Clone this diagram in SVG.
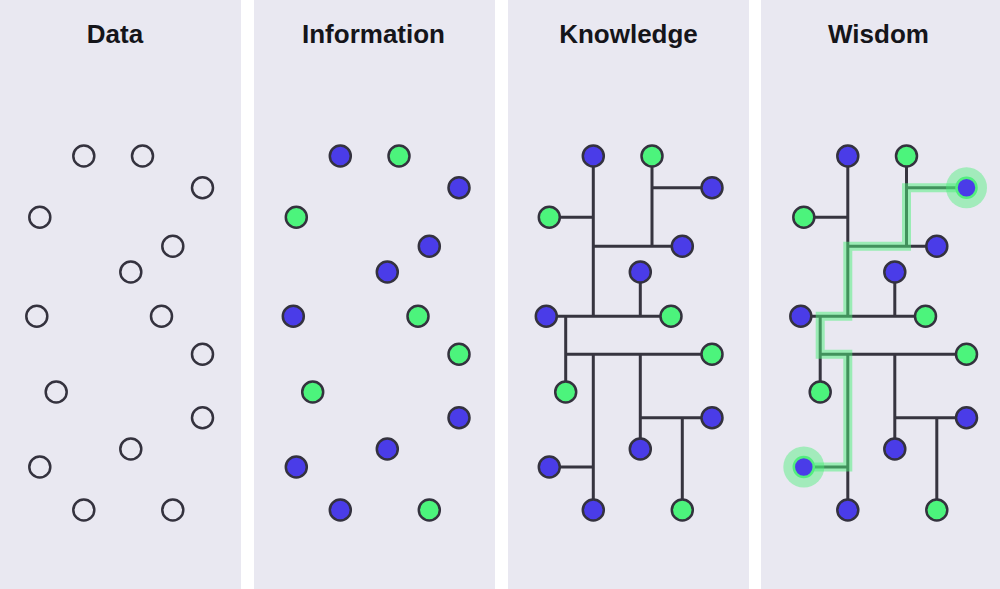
<svg xmlns="http://www.w3.org/2000/svg" width="1000" height="589" viewBox="0 0 1000 589">
<style>
.panel{fill:#e9e8f1}
.title{font-family:"Liberation Sans",Arial,sans-serif;font-weight:bold;font-size:26px;fill:#15151a;text-anchor:middle}
.n{stroke:#34323e;stroke-width:2.5}
.e{fill:none}
.b{fill:#4a3ce8}
.g{fill:#4cf47c}
.ln{fill:none;stroke:#36343f;stroke-width:3}
.hl{fill:none;stroke:#4cef7a;stroke-opacity:0.5;stroke-width:9;stroke-linejoin:miter}
.halo{fill:#4cef7a;fill-opacity:0.45}
.hn{fill:#4a3ce8;stroke:#52ee7e;stroke-width:2.5}
</style>
<defs>
<path id="tree" d="M83.8 156V316.3M39.8 217.3H83.8M142.5 156V246.3M142.5 187.7H202.5M83.8 246.3H172.8M130.8 272V316.3M36.8 316.3H161.5M56.2 316.3V392M56.2 354.3H202.5M83.8 354.3V510M39.8 467H83.8M130.8 354.3V449M130.8 417.7H202.5M172.8 417.7V510"/>
</defs>
<rect width="1000" height="589" fill="#ffffff"/>
<g id="panels">
<rect class="panel" x="0" y="0" width="241" height="589"/>
<rect class="panel" x="254" y="0" width="241" height="589"/>
<rect class="panel" x="508" y="0" width="241" height="589"/>
<rect class="panel" x="761" y="0" width="239" height="589"/>
</g>
<g id="titles">
<text class="title" x="115" y="43">Data</text>
<text class="title" x="373.5" y="43">Information</text>
<text class="title" x="628.5" y="43">Knowledge</text>
<text class="title" x="878.5" y="43">Wisdom</text>
</g>
<g id="connectors">
<use href="#tree" class="ln" transform="translate(509.5,0)"/>
<use href="#tree" class="ln" transform="translate(764,0)"/>
<path class="hl" transform="translate(764,0)" d="M202.5 187.7H142.5V246.3H83.8V316.3H56.2V354.3H83.8V467H39.8"/>
</g>
<g id="data" transform="translate(0,0)">
<g id="d-a"><circle class="n e" cx="83.8" cy="156" r="10.5"/></g>
<g id="d-b"><circle class="n e" cx="142.5" cy="156" r="10.5"/></g>
<g id="d-c"><circle class="n e" cx="202.5" cy="187.7" r="10.5"/></g>
<g id="d-d"><circle class="n e" cx="39.8" cy="217.3" r="10.5"/></g>
<g id="d-e"><circle class="n e" cx="172.8" cy="246.3" r="10.5"/></g>
<g id="d-f"><circle class="n e" cx="130.8" cy="272" r="10.5"/></g>
<g id="d-g"><circle class="n e" cx="36.8" cy="316.3" r="10.5"/></g>
<g id="d-h"><circle class="n e" cx="161.5" cy="316.3" r="10.5"/></g>
<g id="d-i"><circle class="n e" cx="202.5" cy="354.3" r="10.5"/></g>
<g id="d-j"><circle class="n e" cx="56.2" cy="392" r="10.5"/></g>
<g id="d-k"><circle class="n e" cx="202.5" cy="417.7" r="10.5"/></g>
<g id="d-l"><circle class="n e" cx="130.8" cy="449" r="10.5"/></g>
<g id="d-m"><circle class="n e" cx="39.8" cy="467" r="10.5"/></g>
<g id="d-n"><circle class="n e" cx="83.8" cy="510" r="10.5"/></g>
<g id="d-o"><circle class="n e" cx="172.8" cy="510" r="10.5"/></g>
</g>
<g id="information" transform="translate(256.5,0)">
<g id="i-a"><circle class="n b" cx="83.8" cy="156" r="10.5"/></g>
<g id="i-b"><circle class="n g" cx="142.5" cy="156" r="10.5"/></g>
<g id="i-c"><circle class="n b" cx="202.5" cy="187.7" r="10.5"/></g>
<g id="i-d"><circle class="n g" cx="39.8" cy="217.3" r="10.5"/></g>
<g id="i-e"><circle class="n b" cx="172.8" cy="246.3" r="10.5"/></g>
<g id="i-f"><circle class="n b" cx="130.8" cy="272" r="10.5"/></g>
<g id="i-g"><circle class="n b" cx="36.8" cy="316.3" r="10.5"/></g>
<g id="i-h"><circle class="n g" cx="161.5" cy="316.3" r="10.5"/></g>
<g id="i-i"><circle class="n g" cx="202.5" cy="354.3" r="10.5"/></g>
<g id="i-j"><circle class="n g" cx="56.2" cy="392" r="10.5"/></g>
<g id="i-k"><circle class="n b" cx="202.5" cy="417.7" r="10.5"/></g>
<g id="i-l"><circle class="n b" cx="130.8" cy="449" r="10.5"/></g>
<g id="i-m"><circle class="n b" cx="39.8" cy="467" r="10.5"/></g>
<g id="i-n"><circle class="n b" cx="83.8" cy="510" r="10.5"/></g>
<g id="i-o"><circle class="n g" cx="172.8" cy="510" r="10.5"/></g>
</g>
<g id="knowledge" transform="translate(509.5,0)">
<g id="k-a"><circle class="n b" cx="83.8" cy="156" r="10.5"/></g>
<g id="k-b"><circle class="n g" cx="142.5" cy="156" r="10.5"/></g>
<g id="k-c"><circle class="n b" cx="202.5" cy="187.7" r="10.5"/></g>
<g id="k-d"><circle class="n g" cx="39.8" cy="217.3" r="10.5"/></g>
<g id="k-e"><circle class="n b" cx="172.8" cy="246.3" r="10.5"/></g>
<g id="k-f"><circle class="n b" cx="130.8" cy="272" r="10.5"/></g>
<g id="k-g"><circle class="n b" cx="36.8" cy="316.3" r="10.5"/></g>
<g id="k-h"><circle class="n g" cx="161.5" cy="316.3" r="10.5"/></g>
<g id="k-i"><circle class="n g" cx="202.5" cy="354.3" r="10.5"/></g>
<g id="k-j"><circle class="n g" cx="56.2" cy="392" r="10.5"/></g>
<g id="k-k"><circle class="n b" cx="202.5" cy="417.7" r="10.5"/></g>
<g id="k-l"><circle class="n b" cx="130.8" cy="449" r="10.5"/></g>
<g id="k-m"><circle class="n b" cx="39.8" cy="467" r="10.5"/></g>
<g id="k-n"><circle class="n b" cx="83.8" cy="510" r="10.5"/></g>
<g id="k-o"><circle class="n g" cx="172.8" cy="510" r="10.5"/></g>
</g>
<g id="wisdom" transform="translate(764,0)">
<g id="w-a"><circle class="n b" cx="83.8" cy="156" r="10.5"/></g>
<g id="w-b"><circle class="n g" cx="142.5" cy="156" r="10.5"/></g>
<g id="w-c"><circle class="halo" cx="202.5" cy="187.7" r="20.5"/><circle class="hn" cx="202.5" cy="187.7" r="10"/></g>
<g id="w-d"><circle class="n g" cx="39.8" cy="217.3" r="10.5"/></g>
<g id="w-e"><circle class="n b" cx="172.8" cy="246.3" r="10.5"/></g>
<g id="w-f"><circle class="n b" cx="130.8" cy="272" r="10.5"/></g>
<g id="w-g"><circle class="n b" cx="36.8" cy="316.3" r="10.5"/></g>
<g id="w-h"><circle class="n g" cx="161.5" cy="316.3" r="10.5"/></g>
<g id="w-i"><circle class="n g" cx="202.5" cy="354.3" r="10.5"/></g>
<g id="w-j"><circle class="n g" cx="56.2" cy="392" r="10.5"/></g>
<g id="w-k"><circle class="n b" cx="202.5" cy="417.7" r="10.5"/></g>
<g id="w-l"><circle class="n b" cx="130.8" cy="449" r="10.5"/></g>
<g id="w-m"><circle class="halo" cx="39.8" cy="467" r="20.5"/><circle class="hn" cx="39.8" cy="467" r="10"/></g>
<g id="w-n"><circle class="n b" cx="83.8" cy="510" r="10.5"/></g>
<g id="w-o"><circle class="n g" cx="172.8" cy="510" r="10.5"/></g>
</g>
</svg>
